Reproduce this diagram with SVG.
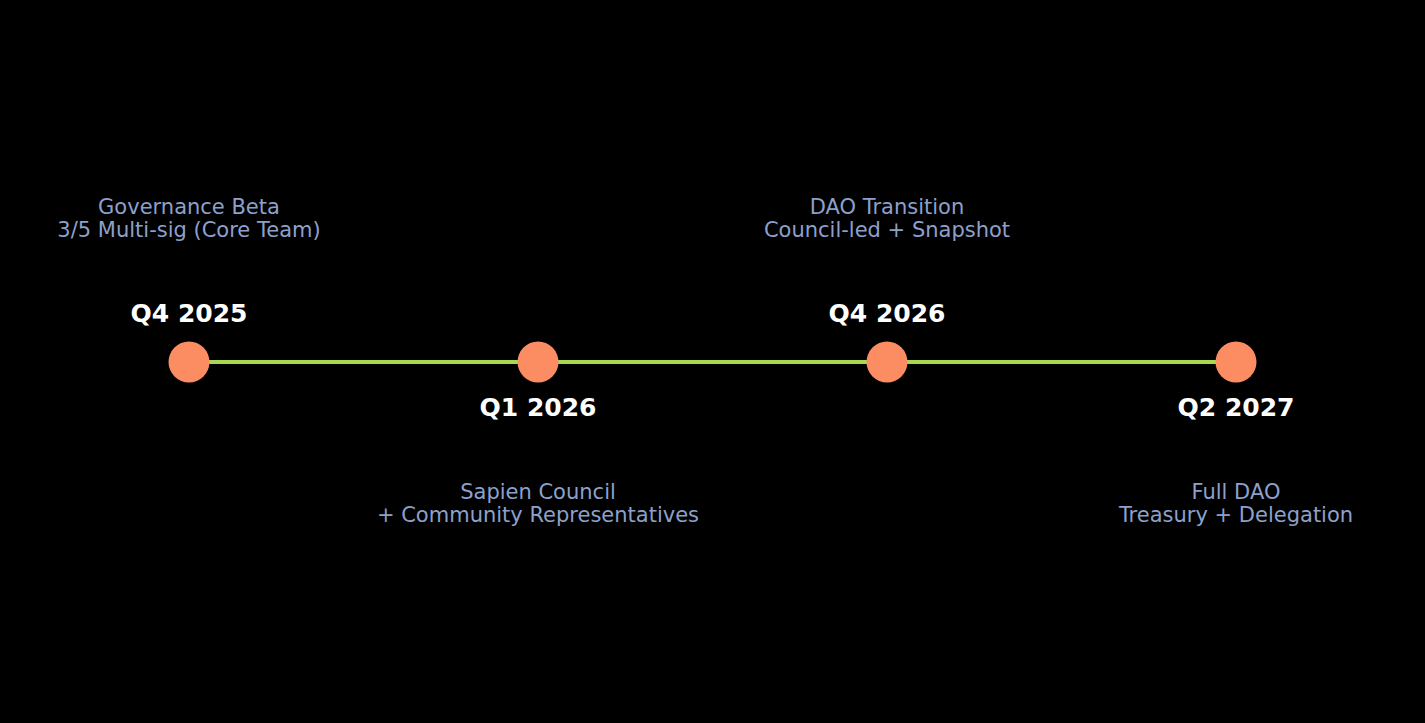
<svg xmlns="http://www.w3.org/2000/svg" width="1425" height="723" viewBox="0 0 1425 723">
<style>
.q{font-family:"DejaVu Sans",sans-serif;font-size:25px;font-weight:bold;fill:#ffffff;text-anchor:middle}
.d{font-family:"DejaVu Sans",sans-serif;font-size:21px;fill:#8da0cb;text-anchor:middle}
.n{fill:#fc8d62}
</style>
<rect width="1425" height="723" fill="#000000"/>
<g id="connectors">
<line x1="189" y1="362" x2="1236" y2="362" stroke="#a6d854" stroke-width="4"/>
</g>
<g id="node-q4-2025">
<circle class="n" cx="189" cy="362" r="20.5"/>
<text class="q" x="189" y="322">Q4 2025</text>
<text class="d" x="189" y="214">Governance Beta</text>
<text class="d" x="189" y="237">3/5 Multi-sig (Core Team)</text>
</g>
<g id="node-q1-2026">
<circle class="n" cx="538" cy="362" r="20.5"/>
<text class="q" x="538" y="416">Q1 2026</text>
<text class="d" x="538" y="499">Sapien Council</text>
<text class="d" x="538" y="522">+ Community Representatives</text>
</g>
<g id="node-q4-2026">
<circle class="n" cx="887" cy="362" r="20.5"/>
<text class="q" x="887" y="322">Q4 2026</text>
<text class="d" x="887" y="214">DAO Transition</text>
<text class="d" x="887" y="237">Council-led + Snapshot</text>
</g>
<g id="node-q2-2027">
<circle class="n" cx="1236" cy="362" r="20.5"/>
<text class="q" x="1236" y="416">Q2 2027</text>
<text class="d" x="1236" y="499">Full DAO</text>
<text class="d" x="1236" y="522">Treasury + Delegation</text>
</g>
</svg>
